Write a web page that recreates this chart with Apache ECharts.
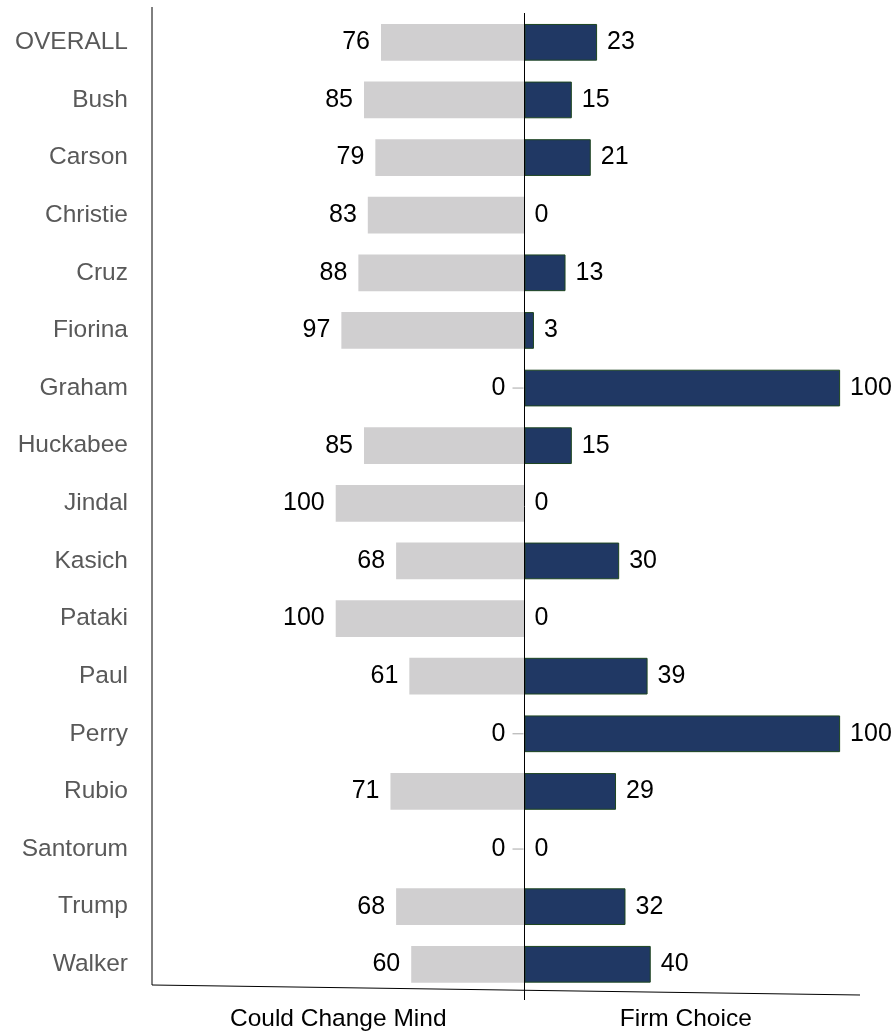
<!DOCTYPE html>
<html>
<head>
<meta charset="utf-8">
<script src="https://cdn.jsdelivr.net/npm/echarts@6/dist/echarts.min.js"></script>
<style>html,body{margin:0;padding:0;background:#fff;}#c{width:896px;height:1033px;}</style>
</head>
<body>
<div id="c"></div>
<script>
var categories = ['OVERALL','Bush','Carson','Christie','Cruz','Fiorina','Graham','Huckabee','Jindal','Kasich','Pataki','Paul','Perry','Rubio','Santorum','Trump','Walker'];
var couldChange = [76,85,79,83,88,97,0,85,100,68,100,61,0,71,0,68,60];
var firmChoice = [23,15,21,0,13,3,100,15,0,30,0,39,100,29,0,32,40];
var seriesNames = ['Could Change Mind','Firm Choice'];

var FONT = '"Liberation Sans", Arial, sans-serif';
var chart = echarts.init(document.getElementById('c'), null, {renderer: 'canvas'});
var TOP = 13.5, H = 979.6;
var changeData = couldChange.map(function (v) {
  return v === 0 ? {value: v, label: {distance: 1}} : {value: v};
});
var firmData = firmChoice.map(function (v) {
  return {value: v, itemStyle: {borderWidth: v === 0 ? 0 : 1}};
});
chart.setOption({
  animation: false,
  textStyle: {fontFamily: FONT},
  grid: [
    {left: 152, top: TOP, width: 372.5, height: H, containLabel: false, outerBoundsMode: 'none'},
    {left: 524.5, top: TOP, width: 335.5, height: H, containLabel: false, outerBoundsMode: 'none'}
  ],
  xAxis: [
    {gridIndex: 0, type: 'value', inverse: true, min: 0, max: 197.3,
     axisLine: {show: false}, axisTick: {show: false}, axisLabel: {show: false}, splitLine: {show: false},
     name: seriesNames[0], nameLocation: 'middle', nameGap: 14,
     nameTextStyle: {fontSize: 24.5, color: '#000', fontFamily: FONT}},
    {gridIndex: 1, type: 'value', min: 0, max: 106.3,
     axisLine: {show: false}, axisTick: {show: false}, axisLabel: {show: false}, splitLine: {show: false},
     name: seriesNames[1], nameLocation: 'middle', nameGap: 14,
     nameTextStyle: {fontSize: 24.5, color: '#000', fontFamily: FONT, padding: [0, 13, 0, 0]}}
  ],
  yAxis: [
    {gridIndex: 0, type: 'category', data: categories, inverse: true,
     axisLine: {show: false}, axisTick: {show: false},
     axisLabel: {show: true, fontSize: 24.5, color: '#595959', margin: 24, fontFamily: FONT}},
    {gridIndex: 1, type: 'category', data: categories, inverse: true,
     axisLine: {show: false}, axisTick: {show: false}, axisLabel: {show: false}}
  ],
  series: [
    {name: seriesNames[0], type: 'bar', xAxisIndex: 0, yAxisIndex: 0, data: changeData,
     barCategoryGap: '36.3%', itemStyle: {color: '#d0cfd0'},
     label: {show: true, position: 'left', distance: 11, fontSize: 25, color: '#000', fontFamily: FONT,
       formatter: function (p) { return p.value === 0 ? '{v|0}{s|}{g|}' : String(p.value); },
       rich: {
         v: {fontSize: 25, color: '#000', fontFamily: FONT},
         s: {width: 7, height: 1},
         g: {width: 11, height: 1, backgroundColor: '#a6a6a6'}
       }}
    },
    {name: seriesNames[1], type: 'bar', xAxisIndex: 1, yAxisIndex: 1, data: firmData,
     barCategoryGap: '36.3%', itemStyle: {color: '#203864', borderColor: '#1e4620', borderWidth: 1},
     label: {show: true, position: 'right', distance: 10, fontSize: 25, color: '#000', fontFamily: FONT}
    }
  ],
  graphic: [
    {type: 'line', shape: {x1: 152, y1: 7, x2: 152, y2: 985}, style: {stroke: '#000', lineWidth: 1}},
    {type: 'line', shape: {x1: 524.5, y1: 13, x2: 524.5, y2: 1000}, style: {stroke: '#000', lineWidth: 1}, z: 10},
    {type: 'line', shape: {x1: 152, y1: 985, x2: 860, y2: 995}, style: {stroke: '#000', lineWidth: 1}}
  ]
});
</script>
</body>
</html>
